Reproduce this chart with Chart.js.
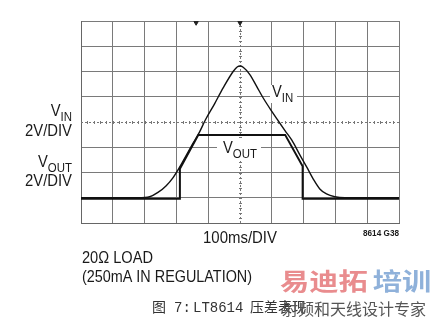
<!DOCTYPE html>
<html lang="zh">
<head>
<meta charset="UTF-8" />
<title>LT8614 压差表现</title>
<script src="https://cdn.jsdelivr.net/npm/chart.js"></script>
<style>
  html, body { margin: 0; padding: 0; background: #fff; }
  #wrap { width: 433px; height: 318px; position: relative; }
</style>
</head>
<body>
<div id="wrap"><canvas id="scope"></canvas></div>
<script>
// scope screen divisions (10 x 8)
const xDivs = [0, 1, 2, 3, 4, 5, 6, 7, 8, 9, 10];
const yDivs = [0, 1, 2, 3, 4, 5, 6, 7, 8];

// VIN trace, in divisions
const vinX = [0, 1.8, 2.16, 2.42, 2.68, 2.89, 3.10, 3.31, 3.52, 3.73, 3.91, 4.20, 4.47, 4.79, 4.92, 5.0,
              5.10, 5.31, 5.52, 5.73, 6.0, 6.2, 6.42, 6.63, 6.89, 7.10, 7.30, 7.51, 7.72, 7.98, 8.3, 10];
const vinY = [1.0, 1.0, 1.04, 1.21, 1.48, 1.79, 2.21, 2.68, 3.15, 3.61, 4.08, 4.72, 5.35, 6.01, 6.19, 6.22,
              6.17, 5.88, 5.42, 4.95, 4.42, 4.05, 3.65, 3.28, 2.68, 2.21, 1.75, 1.35, 1.15, 1.04, 1.0, 1.0];

// VOUT trace
const voutX = [0, 3.11, 3.11, 3.69, 6.42, 6.97, 6.97, 10];
const voutY = [0.96, 0.96, 2.15, 3.49, 3.49, 2.25, 0.96, 0.96];

// little markers on the top edge (position / trigger)
const markX = [3.62, 5.0];
const markY = [7.93, 7.93];

const pts = (xs, ys) => xs.map((x, i) => ({ x, y: ys[i] }));

const FONT = '"Liberation Sans", Arial, sans-serif';
const CJK = '"Noto Sans CJK SC", sans-serif';
const INK = '#1a1a1a';

function label(ctx, txt, x, y, size, opts = {}) {
  ctx.font = (opts.bold ? 'bold ' : '') + size + 'px ' + (opts.family || FONT);
  ctx.fillStyle = opts.color || INK;
  ctx.textAlign = opts.align || 'left';
  ctx.textBaseline = 'alphabetic';
  if (opts.maxWidth) ctx.fillText(txt, x, y, opts.maxWidth);
  else ctx.fillText(txt, x, y);
}

// "V" with a subscript; x is left edge, or right edge when right = true
function vSub(ctx, sub, x, y, right) {
  ctx.font = '16px ' + FONT;
  const wV = ctx.measureText('V').width * 0.92;
  ctx.font = '13px ' + FONT;
  const wS = ctx.measureText(sub).width * 0.88;
  const x0 = right ? x - wV - wS : x;
  label(ctx, 'V', x0, y, 16, { maxWidth: wV });
  label(ctx, sub, x0 + wV, y + 5, 13, { maxWidth: wS });
}

const scopeDeco = {
  id: 'scopeDeco',
  beforeDatasetsDraw(chart) {
    const { ctx, chartArea: a, scales: { x, y } } = chart;
    ctx.save();
    // dotted center lines with minor ticks
    ctx.strokeStyle = '#777';
    ctx.lineWidth = 1;
    ctx.setLineDash([2, 2]);
    const cx = Math.round(x.getPixelForValue(5)) + 0.5;
    const cy = Math.round(y.getPixelForValue(4)) + 0.5;
    ctx.beginPath();
    ctx.moveTo(cx, a.top); ctx.lineTo(cx, a.bottom);
    ctx.moveTo(a.left, cy); ctx.lineTo(a.right, cy);
    ctx.stroke();
    ctx.setLineDash([]);
    ctx.beginPath();
    for (let v = 0.2; v < 10; v += 0.2) {
      const px = Math.round(x.getPixelForValue(v)) + 0.5;
      ctx.moveTo(px, cy - 1.5); ctx.lineTo(px, cy + 1.5);
    }
    for (let v = 0.2; v < 8; v += 0.2) {
      const py = Math.round(y.getPixelForValue(v)) + 0.5;
      ctx.moveTo(cx - 1.5, py); ctx.lineTo(cx + 1.5, py);
    }
    ctx.stroke();

    // white boxes behind in-screen labels
    ctx.fillStyle = '#fff';
    ctx.fillRect(270, 85, 27, 18);
    ctx.fillRect(217, 138, 44, 22);
    vSub(ctx, 'IN', 272, 97, false);
    vSub(ctx, 'OUT', 223, 153, false);
    ctx.restore();
  },
  afterDraw(chart) {
    const ctx = chart.ctx;
    ctx.save();
    // left side scale labels
    vSub(ctx, 'IN', 72, 116, true);
    label(ctx, '2V/DIV', 72, 136, 16, { align: 'right', maxWidth: 47 });
    vSub(ctx, 'OUT', 72, 167, true);
    label(ctx, '2V/DIV', 72, 186, 16, { align: 'right', maxWidth: 47 });

    label(ctx, '100ms/DIV', 203, 243, 16, { maxWidth: 74 });
    label(ctx, '8614 G38', 399, 236, 9.5, { align: 'right', bold: true, maxWidth: 36 });
    label(ctx, '20Ω LOAD', 82, 263, 16, { maxWidth: 71 });
    label(ctx, '(250mA IN REGULATION)', 82, 282, 16, { maxWidth: 170 });

    // caption
    const capC = '#333';
    label(ctx, '图', 152, 312, 14, { family: CJK, color: capC });
    label(ctx, '7:', 174, 312, 14, { family: '"Liberation Mono", monospace', color: capC });
    label(ctx, 'LT8614', 193, 312, 14, { family: '"Liberation Mono", monospace', color: capC });
    label(ctx, '压差表现', 250, 312, 14, { family: CJK, color: capC });

    // watermark
    ctx.save();
    ctx.translate(280, 290);
    ctx.scale(1.22, 1);
    label(ctx, '易迪拓', 0, 0, 24, { bold: true, family: CJK, color: '#e98c8e' });
    label(ctx, '培训', 76, 0, 24, { bold: true, family: CJK, color: '#8fb1da' });
    ctx.restore();
    label(ctx, '射频和天线设计专家', 282, 315, 16, { family: CJK, color: '#555', maxWidth: 148 });
    ctx.restore();
  }
};

new Chart(document.getElementById('scope'), {
  type: 'scatter',
  data: {
    datasets: [
      {
        label: 'VIN',
        data: pts(vinX, vinY),
        showLine: true,
        borderColor: '#111',
        borderWidth: 1.4,
        pointRadius: 0,
        cubicInterpolationMode: 'monotone'
      },
      {
        label: 'VOUT',
        data: pts(voutX, voutY),
        showLine: true,
        borderColor: '#111',
        borderWidth: 2,
        pointRadius: 0,
        tension: 0
      },
      {
        label: 'markers',
        data: pts(markX, markY),
        pointStyle: 'triangle',
        rotation: 180,
        pointRadius: 2.5,
        backgroundColor: '#222',
        borderColor: '#222',
        borderWidth: 1
      }
    ]
  },
  options: {
    responsive: true,
    maintainAspectRatio: false,
    animation: false,
    layout: { padding: { left: 81, top: 21, right: 34, bottom: 95 } },
    plugins: { legend: { display: false }, tooltip: { enabled: false } },
    scales: {
      x: {
        type: 'linear',
        min: xDivs[0],
        max: xDivs[xDivs.length - 1],
        afterBuildTicks: s => { s.ticks = xDivs.map(v => ({ value: v })); },
        ticks: { display: false },
        grid: {
          drawTicks: false,
          color: c => (c.tick && c.tick.value === 5 ? 'rgba(0,0,0,0)' : '#7a7a7a'),
          lineWidth: 1
        },
        border: { color: '#666', width: 1 }
      },
      y: {
        type: 'linear',
        min: yDivs[0],
        max: yDivs[yDivs.length - 1],
        afterBuildTicks: s => { s.ticks = yDivs.map(v => ({ value: v })); },
        ticks: { display: false },
        grid: {
          drawTicks: false,
          color: c => (c.tick && c.tick.value === 4 ? 'rgba(0,0,0,0)' : '#7a7a7a'),
          lineWidth: 1
        },
        border: { color: '#666', width: 1 }
      }
    }
  },
  plugins: [scopeDeco]
});
</script>
</body>
</html>
